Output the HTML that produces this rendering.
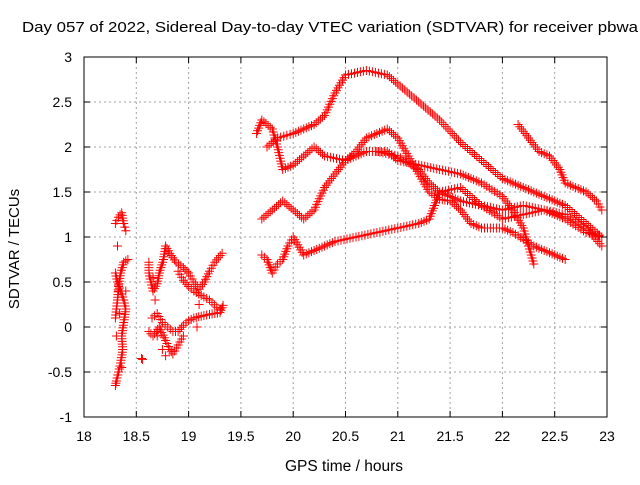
<!DOCTYPE html>
<html><head><meta charset="utf-8"><style>
body{margin:0;background:#fff}
svg text{font-family:"Liberation Sans",sans-serif;font-size:14px;fill:#000}
</style></head><body>
<svg id="chart" width="640" height="480" viewBox="0 0 640 480" xmlns="http://www.w3.org/2000/svg">
<rect width="640" height="480" fill="#fff"/>
<g id="grid"></g><g id="marks"></g><g id="axes"></g>
</svg>
<script>
const xTicks=[18,18.5,19,19.5,20,20.5,21,21.5,22,22.5,23];
const yTicks=[-1,-0.5,0,0.5,1,1.5,2,2.5,3];
const trackA=[[19.75,2.0],[19.85,2.1],[20.0,2.15],[20.2,2.25],[20.3,2.35],[20.4,2.6],[20.5,2.8],[20.7,2.85],[20.9,2.8],[21.0,2.7],[21.2,2.5],[21.4,2.3],[21.6,2.05],[21.8,1.85],[22.0,1.65],[22.2,1.55],[22.4,1.45],[22.6,1.35],[22.8,1.15],[22.95,1.0]];
const trackB=[[19.7,1.2],[19.8,1.3],[19.9,1.4],[20.0,1.3],[20.1,1.2],[20.2,1.3],[20.3,1.55],[20.4,1.7],[20.5,1.85],[20.6,1.95],[20.7,2.1],[20.9,2.2],[21.0,2.1],[21.1,1.9],[21.2,1.7],[21.3,1.5],[21.4,1.42],[21.5,1.4],[21.6,1.3],[21.7,1.15],[21.8,1.1],[22.0,1.1],[22.1,1.05],[22.3,0.9],[22.5,0.8],[22.6,0.75]];
const trackC=[[19.7,0.8],[19.75,0.75],[19.8,0.6],[19.85,0.7],[19.9,0.75],[19.95,0.9],[20.0,1.0],[20.1,0.8],[20.2,0.85],[20.4,0.95],[20.6,1.0],[20.8,1.05],[21.0,1.1],[21.2,1.15],[21.3,1.2],[21.4,1.5],[21.6,1.55],[21.8,1.35],[22.0,1.2],[22.2,1.25],[22.4,1.3],[22.6,1.25],[22.8,1.1],[22.95,0.9]];
const trackD=[[19.65,2.15],[19.7,2.3],[19.8,2.2],[19.85,2.0],[19.9,1.75],[20.0,1.8],[20.1,1.9],[20.2,2.0],[20.3,1.9],[20.5,1.85],[20.7,1.95],[20.9,1.95],[21.0,1.85],[21.2,1.8],[21.4,1.75],[21.6,1.7],[21.8,1.6],[22.0,1.45],[22.1,1.3],[22.2,1.1],[22.3,0.7]];
const trackE=[[22.15,2.25],[22.25,2.1],[22.35,1.95],[22.45,1.9],[22.55,1.75],[22.6,1.6],[22.7,1.55],[22.8,1.5],[22.9,1.4],[22.95,1.3]];
const trackF=[[20.8,1.95],[21.0,1.9],[21.2,1.75],[21.3,1.6],[21.4,1.5],[21.6,1.4],[21.8,1.35],[22.0,1.3],[22.2,1.35],[22.4,1.3],[22.6,1.2],[22.8,1.05],[22.95,1.0]];
const trackG=[[18.3,1.15],[18.33,1.22],[18.36,1.27],[18.38,1.15],[18.4,1.07]];
const trackH=[[18.3,0.1],[18.32,0.3],[18.33,0.45],[18.35,0.6],[18.38,0.72],[18.42,0.75]];
const trackI=[[18.3,0.6],[18.32,0.5],[18.35,0.4],[18.38,0.3],[18.4,0.2],[18.38,0.05],[18.36,-0.1],[18.37,-0.25],[18.35,-0.4],[18.33,-0.5],[18.31,-0.6],[18.3,-0.65]];
const trackJ=[[18.62,0.72],[18.62,0.6],[18.64,0.5],[18.66,0.4],[18.7,0.48],[18.72,0.6],[18.76,0.75],[18.78,0.9],[18.82,0.82],[18.88,0.72],[18.95,0.66],[19.0,0.6],[19.05,0.5],[19.1,0.42],[19.15,0.5],[19.2,0.62],[19.25,0.72],[19.32,0.82]];
const trackK=[[18.9,0.62],[18.95,0.52],[19.0,0.45],[19.05,0.4],[19.12,0.35],[19.2,0.3],[19.27,0.22],[19.3,0.2]];
const trackL=[[18.65,0.1],[18.7,0.15],[18.75,0.05],[18.8,0.0],[18.85,-0.05],[18.9,-0.05],[18.95,0.02],[19.0,0.07],[19.05,0.1],[19.12,0.12],[19.2,0.14],[19.3,0.16],[19.33,0.24]];
const trackM=[[18.62,-0.05],[18.66,-0.1],[18.72,0.0],[18.78,-0.15],[18.82,-0.25],[18.85,-0.3],[18.9,-0.2],[18.95,-0.1]];
const scatterEarly=[[18.3,-0.65],[18.32,0.9],[18.4,0.4],[18.31,-0.1],[18.34,0.15],[18.36,-0.45],[18.33,0.4]];
const scatterMid=[[18.55,-0.35],[18.56,-0.36],[18.7,-0.1],[18.75,-0.25],[18.78,-0.32],[19.1,0.25],[19.08,0.0],[18.68,0.3],[18.66,0.55]];
const L=84,R=607,T=57,B=417;
const sx=v=>L+(v-18)/5*(R-L), sy=v=>B-(v+1)/4*(B-T);
const NS="http://www.w3.org/2000/svg";
function mk(tag,attrs,parent,text){const e=document.createElementNS(NS,tag);for(const k in attrs)e.setAttribute(k,attrs[k]);if(text!=null)e.textContent=text;parent.appendChild(e);return e;}
const grid=document.getElementById('grid'),axes=document.getElementById('axes'),marks=document.getElementById('marks');
xTicks.forEach(t=>{const x=sx(t);
 if(t>18&&t<23){const g=mk('line',{x1:x,x2:x,y1:T,y2:B,stroke:'#a0a0a0','stroke-dasharray':'2,3'},grid);}
 mk('line',{x1:x,x2:x,y1:B,y2:B-6,stroke:'#000'},axes);mk('line',{x1:x,x2:x,y1:T,y2:T+6,stroke:'#000'},axes);
 const l=mk('text',{x:x,y:B+24,'text-anchor':'middle'},axes,String(t));});
yTicks.forEach(t=>{const y=sy(t);
 if(t>-1&&t<3){const g=mk('line',{x1:L,x2:R,y1:y,y2:y,stroke:'#a0a0a0','stroke-dasharray':'2,3'},grid);}
 mk('line',{x1:L,x2:L+6,y1:y,y2:y,stroke:'#000'},axes);mk('line',{x1:R,x2:R-6,y1:y,y2:y,stroke:'#000'},axes);
 const l=mk('text',{x:L-12,y:y+5,'text-anchor':'end'},axes,String(t));});
const frame=mk('rect',{x:L,y:T,width:R-L,height:B-T,fill:'none',stroke:'#000'},axes);

const title=mk('text',{x:22,y:32,textLength:616,lengthAdjust:'spacingAndGlyphs',style:'font-size:15px'},axes,'Day 057 of 2022, Sidereal Day-to-day VTEC variation (SDTVAR) for receiver pbwa');

const xt=mk('text',{x:344,y:471,'text-anchor':'middle',style:'font-size:15.5px'},axes,'GPS time / hours');

const yt=mk('text',{x:0,y:0,'text-anchor':'middle',transform:'translate(19,249) rotate(-90)',style:'font-size:15px'},axes,'SDTVAR / TECUs');

let d='';
function plus(x,y){d+=`M${(x-4.5).toFixed(1)} ${y.toFixed(1)}h9M${x.toFixed(1)} ${(y-4.5).toFixed(1)}v9`;}
function track(arr){for(let i=0;i<arr.length;i++){const x=sx(arr[i][0]),y=sy(arr[i][1]);plus(x,y);
 if(i<arr.length-1){const x2=sx(arr[i+1][0]),y2=sy(arr[i+1][1]);const n=Math.max(1,Math.round(Math.hypot(x2-x,y2-y)/3));for(let k=1;k<n;k++)plus(x+(x2-x)*k/n,y+(y2-y)*k/n);}}}
[trackA,trackB,trackC,trackD,trackE,trackF,trackG,trackH,trackI,trackJ,trackK,trackL,trackM].forEach(track);
scatterEarly.concat(scatterMid).forEach(p=>plus(sx(p[0]),sy(p[1])));
const series=mk('path',{d:d,stroke:'#ff0000','stroke-width':1,fill:'none'},marks);

</script>
</body></html>
